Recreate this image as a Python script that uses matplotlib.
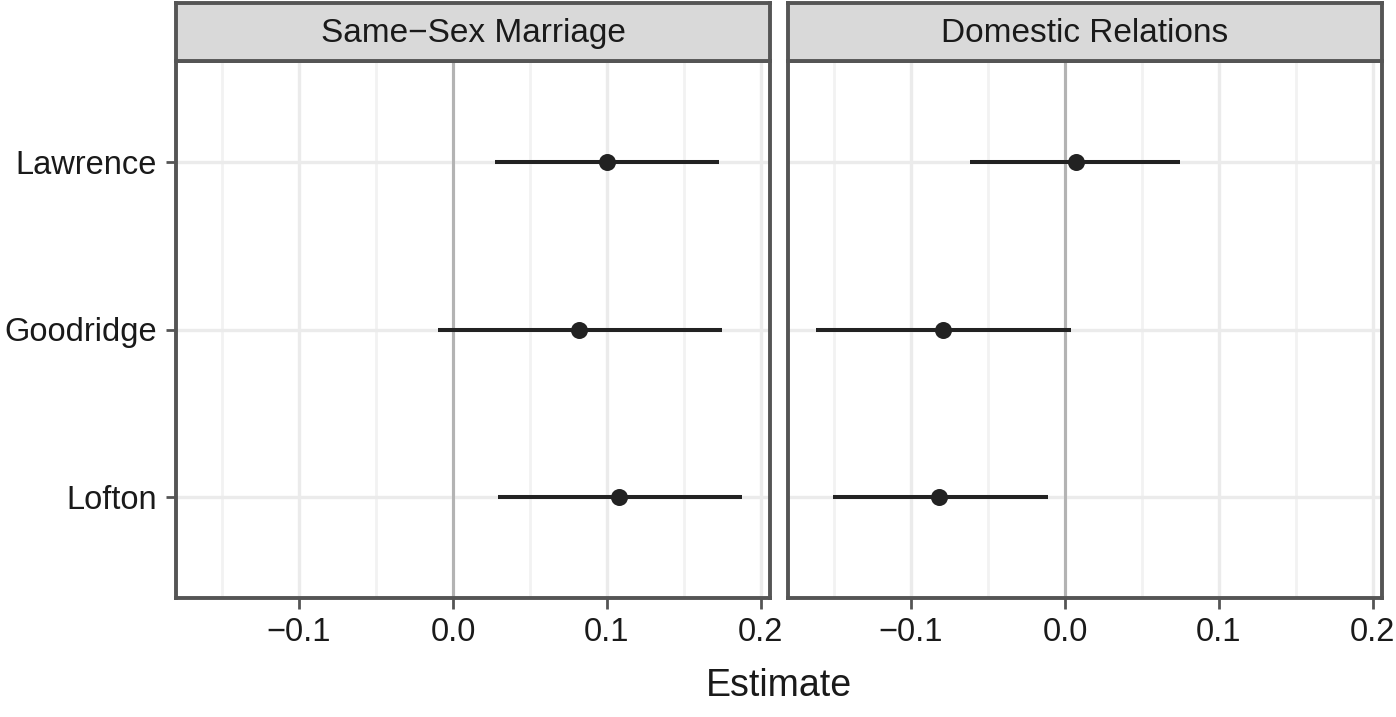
import matplotlib.pyplot as plt

# Данные: оценки и доверительные интервалы
cases = ['Lawrence', 'Goodridge', 'Lofton']
panels = ['Same\u2212Sex Marriage', 'Domestic Relations']

est_ssm = [0.100, 0.082, 0.108]
low_ssm = [0.027, -0.010, 0.029]
high_ssm = [0.173, 0.175, 0.188]

est_dr = [0.007, -0.079, -0.082]
low_dr = [-0.062, -0.162, -0.151]
high_dr = [0.075, 0.004, -0.011]

xticks = [-0.1, 0.0, 0.1, 0.2]
xtick_labels = ['\u22120.1', '0.0', '0.1', '0.2']

plt.rcParams['font.family'] = ['Liberation Sans', 'DejaVu Sans']

W, H = 1396, 717
fig = plt.figure(figsize=(W / 100, H / 100), dpi=100)

border = '#555555'
ink = '#1a1a1a'


def px_axes(x0, y0, x1, y1):
    return fig.add_axes([x0 / W, 1 - y1 / H, (x1 - x0) / W, (y1 - y0) / H])


data = [(est_ssm, low_ssm, high_ssm), (est_dr, low_dr, high_dr)]
lefts = [176, 788]
for i, (est, low, high) in enumerate(data):
    x0 = lefts[i]
    x1 = x0 + 594
    ax = px_axes(x0, 61, x1, 598)
    ypos = [3, 2, 1]
    ax.set_xlim(-0.18, 0.206)
    ax.set_ylim(0.4, 3.6)
    # сетка
    for v in [-0.15, -0.05, 0.05, 0.15]:
        ax.axvline(v, color='#f2f2f2', lw=2, zorder=0)
    for v in xticks:
        ax.axvline(v, color='#ebebeb', lw=2.4, zorder=0)
    for y in ypos:
        ax.axhline(y, color='#ebebeb', lw=2.4, zorder=0)
    ax.axvline(0, color='#b3b3b3', lw=2.2, zorder=1)
    ax.hlines(ypos, low, high, color='#222222', lw=2.9, zorder=2)
    ax.scatter(est, ypos, s=150, color='#222222', linewidths=0, zorder=3)
    ax.set_xticks(xticks)
    ax.set_xticklabels(xtick_labels, fontsize=23.5, color=ink)
    ax.set_yticks(ypos)
    if i == 0:
        ax.set_yticklabels(cases, fontsize=23.5, color=ink)
        ax.tick_params(axis='y', length=7, width=2, color=border, pad=7)
    else:
        ax.set_yticklabels([])
        ax.tick_params(axis='y', length=0)
    ax.tick_params(axis='x', length=8, width=2, color=border, pad=6)
    for s in ax.spines.values():
        s.set_color(border)
        s.set_linewidth(2.8)
    # полоса с заголовком панели
    st = px_axes(x0, 3, x1, 61)
    st.set_facecolor('#d9d9d9')
    st.set_xticks([])
    st.set_yticks([])
    for s in st.spines.values():
        s.set_color(border)
        s.set_linewidth(2.8)
    st.text(0.5, 0.47, panels[i], ha='center', va='center', fontsize=24,
            color=ink, transform=st.transAxes)

fig.text(779 / W, 1 - 686 / H, 'Estimate', ha='center', va='center',
         fontsize=27, color=ink)

fig.savefig('out.png', dpi=100)
